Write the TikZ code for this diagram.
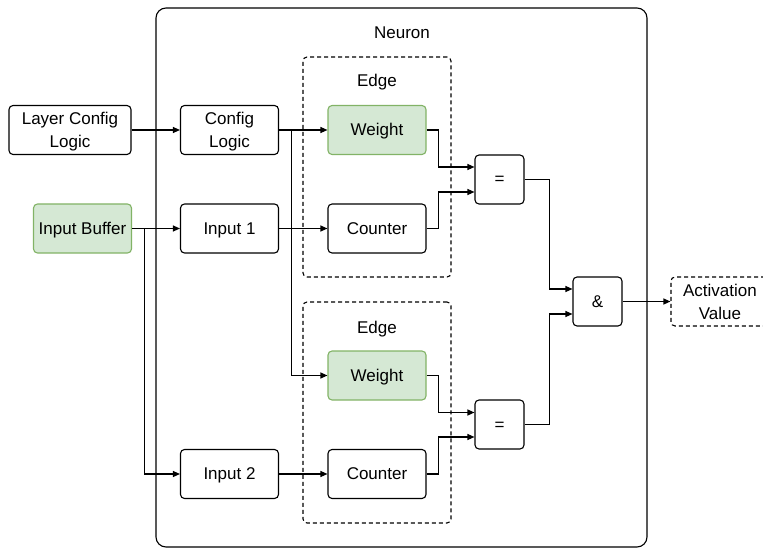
\documentclass[tikz,border=0pt]{standalone}
\usepackage{fontspec}
\setmainfont{Liberation Sans}
\usetikzlibrary{arrows.meta,positioning}
\definecolor{gfill}{HTML}{D5E8D4}
\definecolor{gline}{HTML}{82B366}
% two centred lines, hung from the baseline of the first one
\newcommand{\twolines}[2]{\begin{tabular}[t]{@{}c@{}}#1\\#2\end{tabular}}
\tikzset{
  box/.style={draw=black, line width=1.1pt, rounded corners=4pt, fill=white,
    minimum width=98pt, minimum height=49pt, inner sep=0pt,
    text height=14pt, text depth=3pt,
    font=\fontsize{17}{23}\selectfont},
  pair/.style={text height=14pt, text depth=25pt},
  greenbox/.style={box, draw=gline, fill=gfill},
  gatebox/.style={box, minimum width=49pt},
  dashbox/.style={draw=black, line width=1.1pt, rounded corners=4pt,
    dash pattern=on 4pt off 3pt, inner sep=0pt},
  caption/.style={font=\fontsize{17}{23}\selectfont, inner sep=0pt,
    text height=12pt, text depth=0pt},
  arr/.style={draw=black, line width=1.1pt, -{Triangle[length=7pt,width=6pt]}},
}
\begin{document}
\begin{tikzpicture}[x=1pt, y=-1pt]
\useasboundingbox (0,0) rectangle (763,548);

% containers
\node[draw=black, line width=1.1pt, rounded corners=10pt, minimum width=491pt,
  minimum height=539pt, inner sep=0pt] (neuron) at (401.5,277.5) {};
\node[caption] (neuronlbl) at (402,32.5) {Neuron};

\node[dashbox, minimum width=148pt, minimum height=220pt] (edgeA) at (377,167) {};
\node[caption] (edgeAlbl) at (377,81) {Edge};
\node[dashbox, minimum width=148pt, minimum height=221pt] (edgeB) at (377,412.5) {};
\node[caption] (edgeBlbl) at (377,327) {Edge};

% blocks
\node[box, pair, minimum width=122pt] (lcl) at (70,130) {\twolines{Layer Config}{Logic}};
\node[box, pair] (cfg) at (229.5,130) {\twolines{Config}{Logic}};
\node[greenbox] (ibuf) at (82.5,228.5) {Input Buffer};
\node[box] (in1) at (229.5,228.5) {Input 1};
\node[box] (in2) at (229.5,474) {Input 2};

\node[greenbox] (w1) at (377,130) {Weight};
\node[box] (c1) at (377,228.5) {Counter};
\node[greenbox] (w2) at (377,375.5) {Weight};
\node[box] (c2) at (377,474) {Counter};

\node[gatebox] (eq1) at (499.5,179.5) {=};
\node[gatebox] (eq2) at (499.5,424.5) {=};
\node[gatebox] (and) at (597.5,301.5) {\&};
\node[box, pair, dash pattern=on 4pt off 3pt] (act) at (720,301.5) {\twolines{Activation}{Value}};

% connectors
\draw[arr] (lcl.east) -- (cfg.west);
\draw[arr] (cfg.east) -- (w1.west);
\draw[arr] (cfg.east) -- ++(12,0) |- (w2.west);
\draw[arr] (ibuf.east) -- (in1.west);
\draw[arr] (ibuf.east) -- ++(12.5,0) |- (in2.west);
\draw[arr] (in1.east) -- (c1.west);
\draw[arr] (in2.east) -- (c2.west);

\draw[arr] (w1.east) -- ++(12,0) |- ([yshift=12.5pt]eq1.west);
\draw[arr] (c1.east) -- ++(12,0) |- ([yshift=-12.5pt]eq1.west);
\draw[arr] (w2.east) -- ++(12,0) |- ([yshift=12pt]eq2.west);
\draw[arr] (c2.east) -- ++(12,0) |- ([yshift=-12.5pt]eq2.west);

\draw[arr] (eq1.east) -- ++(24.5,0) |- ([yshift=12.5pt]and.west);
\draw[arr] (eq2.east) -- ++(24.5,0) |- ([yshift=-12.5pt]and.west);
\draw[arr] (and.east) -- (act.west);
\end{tikzpicture}
\end{document}
